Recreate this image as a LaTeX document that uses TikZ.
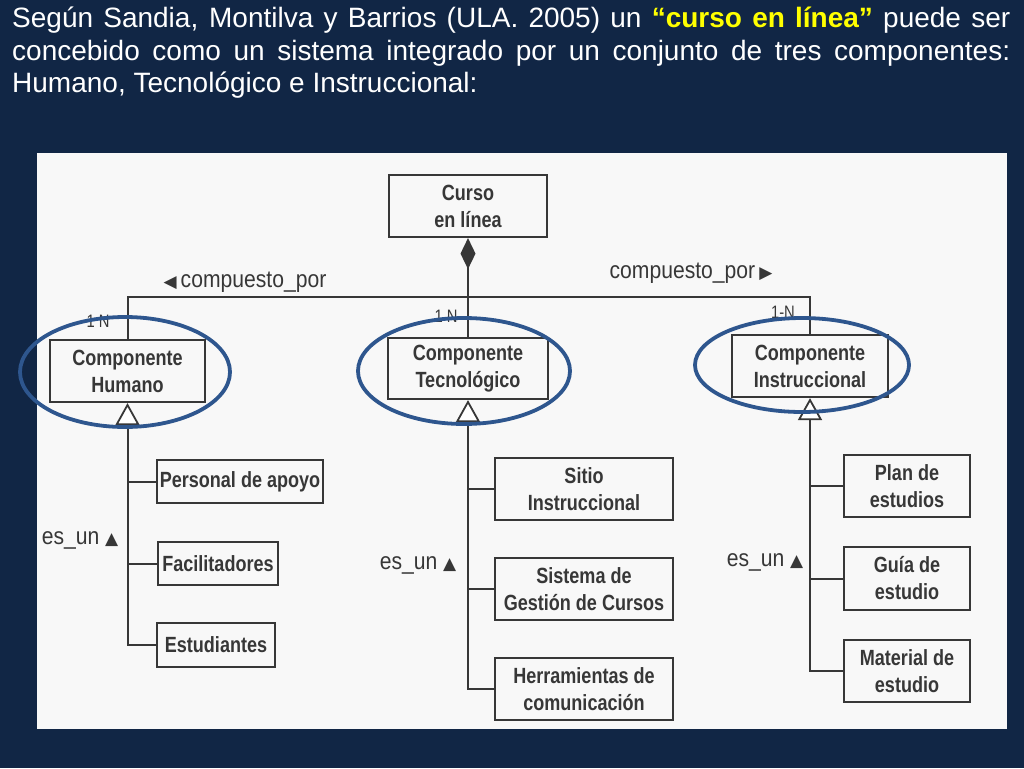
\documentclass[tikz,border=0pt]{standalone}
\usepackage{fontspec}
\setmainfont{Liberation Sans}
\newfontfamily\cond[FakeStretch=0.82]{Liberation Sans}
\newfontfamily\condl[FakeStretch=0.88]{Liberation Sans}
\newfontfamily\symf{DejaVu Sans}
\usetikzlibrary{arrows.meta}
\definecolor{navy}{RGB}{17,38,69}
\definecolor{ellblue}{RGB}{46,86,142}
\definecolor{ink}{RGB}{55,55,55}
\definecolor{panel}{RGB}{248,248,248}
\definecolor{hiyellow}{RGB}{255,255,0}
\newcommand{\tri}[1]{{\symf\fontsize{17}{17}\selectfont #1}}
\begin{document}
\begin{tikzpicture}[x=1pt,y=-1pt,
  umlbox/.style={draw=ink, line width=2.2pt, inner sep=0pt, align=center,
    font=\cond\bfseries\fontsize{22}{27}\selectfont, text=ink},
  conn/.style={draw=ink, line width=2pt},
  lbl/.style={inner sep=0pt, font=\condl\fontsize{24}{26}\selectfont, text=ink},
  mult/.style={inner sep=0pt, font=\cond\fontsize{18}{20}\selectfont, text=ink},
  ell/.style={draw=ellblue, line width=3.8pt},
  gen/.style={{Triangle[length=22pt,width=24pt,fill=white,line width=1.8pt]}-},
  comp/.style={{Diamond[length=31pt,width=15pt,fill=ink]}-},
  titleline/.style={inner sep=0pt, anchor=base west, text=white,
    font=\fontsize{28}{32}\selectfont}
]
\fill[navy] (0,0) rectangle (1024,768);
\useasboundingbox (0,0) rectangle (1024,768);
\fill[panel] (37,153) rectangle (1007,729);

% title
\node[titleline] (t1) at (12,28) {\makebox[998pt][s]{Según Sandia, Montilva y Barrios (ULA. 2005) un \textcolor{hiyellow}{\bfseries “curso en línea”} puede ser}};
\node[titleline] (t2) at (12,60) {\makebox[998pt][s]{concebido como un sistema integrado por un conjunto de tres componentes:}};
\node[titleline] (t3) at (12,92) {Humano, Tecnológico e Instruccional:};

% boxes
\node[umlbox, minimum width=158pt, minimum height=62pt] (curso) at (468,206) {Curso\\en línea};
\node[umlbox, minimum width=155pt, minimum height=62pt] (humano) at (127.5,371) {Componente\\Humano};
\node[umlbox, minimum width=160pt, minimum height=61pt] (tecno) at (468,368.5) {Componente\\Tecnológico};
\node[umlbox, minimum width=156pt, minimum height=62pt] (instr) at (810,366) {Componente\\Instruccional};

\node[umlbox, minimum width=166pt, minimum height=43pt] (personal) at (240,481.5) {Personal de apoyo};
\node[umlbox, minimum width=120pt, minimum height=43pt] (facil) at (218,563.5) {Facilitadores};
\node[umlbox, minimum width=118pt, minimum height=44pt] (estud) at (216,645) {Estudiantes};

\node[umlbox, minimum width=178pt, minimum height=62pt] (sitio) at (584,489) {Sitio\\Instruccional};
\node[umlbox, minimum width=178pt, minimum height=62pt] (sistema) at (584,589) {Sistema de\\Gestión de Cursos};
\node[umlbox, minimum width=178pt, minimum height=62pt] (herram) at (584,689) {Herramientas de\\comunicación};

\node[umlbox, minimum width=126pt, minimum height=62pt] (plan) at (907,486) {Plan de\\estudios};
\node[umlbox, minimum width=126pt, minimum height=63pt] (guia) at (907,578.5) {Guía de\\estudio};
\node[umlbox, minimum width=126pt, minimum height=62pt] (material) at (907,671) {Material de\\estudio};

% composition
\draw[conn, comp] (curso.south) -- (tecno.north);
\coordinate (busR) at (810,297);
\draw[conn] (humano.north) |- (busR) -- (instr.north);

% generalizations
\draw[conn, gen] (humano.south) -- (humano.south |- estud.west) -- (estud.west);
\draw[conn] (humano.south |- personal.west) -- (personal.west);
\draw[conn] (humano.south |- facil.west) -- (facil.west);

\draw[conn, gen] (tecno.south) -- (tecno.south |- herram.west) -- (herram.west);
\draw[conn] (tecno.south |- sitio.west) -- (sitio.west);
\draw[conn] (tecno.south |- sistema.west) -- (sistema.west);

\draw[conn, gen] (instr.south) -- (instr.south |- material.west) -- (material.west);
\draw[conn] (instr.south |- plan.west) -- (plan.west);
\draw[conn] (instr.south |- guia.west) -- (guia.west);

% labels
\node[lbl] (cp1) at (245,282) {\tri{◀}\,compuesto\_por};
\node[lbl] (cp2) at (691,273) {compuesto\_por\,\tri{▶}};
\node[mult] (m1) at (98,321) {1 N};
\node[mult] (m2) at (446,316) {1 N};
\node[mult] (m3) at (783,312) {1-N};
\node[lbl] (e1) at (80,540) {es\_un \tri{▲}};
\node[lbl] (e2) at (418,565) {es\_un \tri{▲}};
\node[lbl] (e3) at (765,562) {es\_un \tri{▲}};

% highlight ellipses
\draw[ell] (125,372) ellipse [x radius=105pt, y radius=55pt];
\draw[ell] (464,371) ellipse [x radius=106pt, y radius=53pt];
\draw[ell] (802,365) ellipse [x radius=107pt, y radius=47pt];
\end{tikzpicture}
\end{document}
